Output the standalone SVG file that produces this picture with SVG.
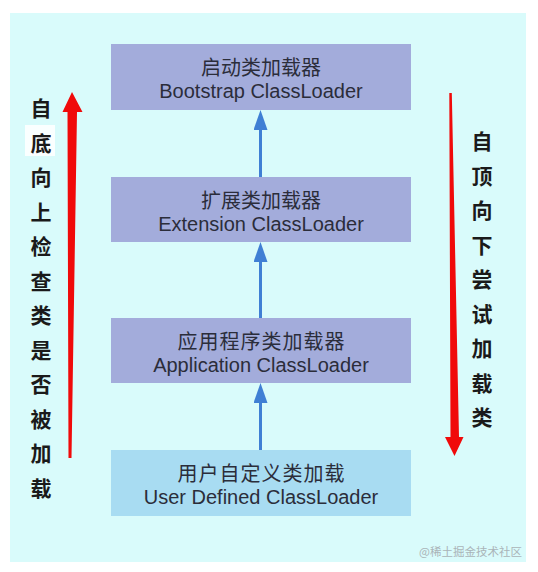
<svg xmlns="http://www.w3.org/2000/svg" width="538" height="572" viewBox="0 0 538 572">
<style>
.box{fill:#a3acdb}
.box4{fill:#a8dcf2}
.t{font-family:"Liberation Sans","Noto Sans CJK SC",sans-serif;font-size:20px;fill:#2b2d3a;text-anchor:middle}
.cn{font-family:"Noto Sans CJK SC",sans-serif;font-size:20px}
.side{font-family:"Noto Sans CJK SC",sans-serif;font-size:21px;font-weight:bold;fill:#1a1a1a;text-anchor:middle}
.conn{stroke:#3f7fd4;stroke-width:3;fill:none}
.red{fill:#f00a0a}
.wm{font-family:"Noto Sans CJK SC",sans-serif;font-size:11.5px;fill:#aab4b8;text-anchor:end}
</style>
<defs>
<marker id="bh" viewBox="0 0 20 14" refX="0" refY="7" markerWidth="20" markerHeight="14" markerUnits="userSpaceOnUse" orient="auto">
<path d="M0,0 L20,7 L0,14 z" fill="#3f7fd4"/>
</marker>
</defs>
<rect x="0" y="0" width="538" height="572" fill="#ffffff"/>
<rect x="10" y="13" width="516" height="549" fill="#d9fbfb"/>

<g id="connectors">
<line class="conn" x1="260.5" y1="177" x2="260.5" y2="130" marker-end="url(#bh)"/>
<line class="conn" x1="260.5" y1="318" x2="260.5" y2="262" marker-end="url(#bh)"/>
<line class="conn" x1="260.5" y1="450" x2="260.5" y2="403" marker-end="url(#bh)"/>
</g>

<g id="bootstrap">
<rect class="box" x="111" y="44" width="300" height="66"/>
<text class="t cn" x="261" y="75">启动类加载器</text>
<text class="t" x="261" y="98">Bootstrap ClassLoader</text>
</g>
<g id="extension">
<rect class="box" x="111" y="177" width="300" height="65"/>
<text class="t cn" x="261" y="208">扩展类加载器</text>
<text class="t" x="261" y="231">Extension ClassLoader</text>
</g>
<g id="application">
<rect class="box" x="111" y="318" width="300" height="65"/>
<text class="t cn" x="261.5" y="349" letter-spacing="1">应用程序类加载器</text>
<text class="t" x="261" y="372">Application ClassLoader</text>
</g>
<g id="user">
<rect class="box4" x="111" y="450" width="300" height="66"/>
<text class="t cn" x="261.5" y="481" letter-spacing="1">用户自定义类加载</text>
<text class="t" x="261" y="504">User Defined ClassLoader</text>
</g>

<g id="left-arrow">
<polygon class="red" points="72,92 82.5,112 77,112 71.5,458 68.5,458 67.5,112 62.5,112"/>
</g>
<g id="right-arrow">
<polygon class="red" points="449.3,93 451.8,93 459,437 463.5,437 454.5,456 445,437 450.5,437"/>
</g>

<g id="left-label">
<rect x="25" y="125" width="30" height="31" fill="#ffffff" opacity="0.85"/>
<text class="side" x="41" y="116">自</text>
<text class="side" x="41" y="150.5">底</text>
<text class="side" x="41" y="185">向</text>
<text class="side" x="41" y="219.5">上</text>
<text class="side" x="41" y="254">检</text>
<text class="side" x="41" y="288.5">查</text>
<text class="side" x="41" y="323">类</text>
<text class="side" x="41" y="357.5">是</text>
<text class="side" x="41" y="392">否</text>
<text class="side" x="41" y="426.5">被</text>
<text class="side" x="41" y="461">加</text>
<text class="side" x="41" y="495.5">载</text>
</g>
<g id="right-label">
<text class="side" x="482" y="149">自</text>
<text class="side" x="482" y="183.5">顶</text>
<text class="side" x="482" y="218">向</text>
<text class="side" x="482" y="252.5">下</text>
<text class="side" x="482" y="287">尝</text>
<text class="side" x="482" y="321.5">试</text>
<text class="side" x="482" y="356">加</text>
<text class="side" x="482" y="390.5">载</text>
<text class="side" x="482" y="425">类</text>
</g>
<text class="wm" x="522" y="556">@稀土掘金技术社区</text>
</svg>
